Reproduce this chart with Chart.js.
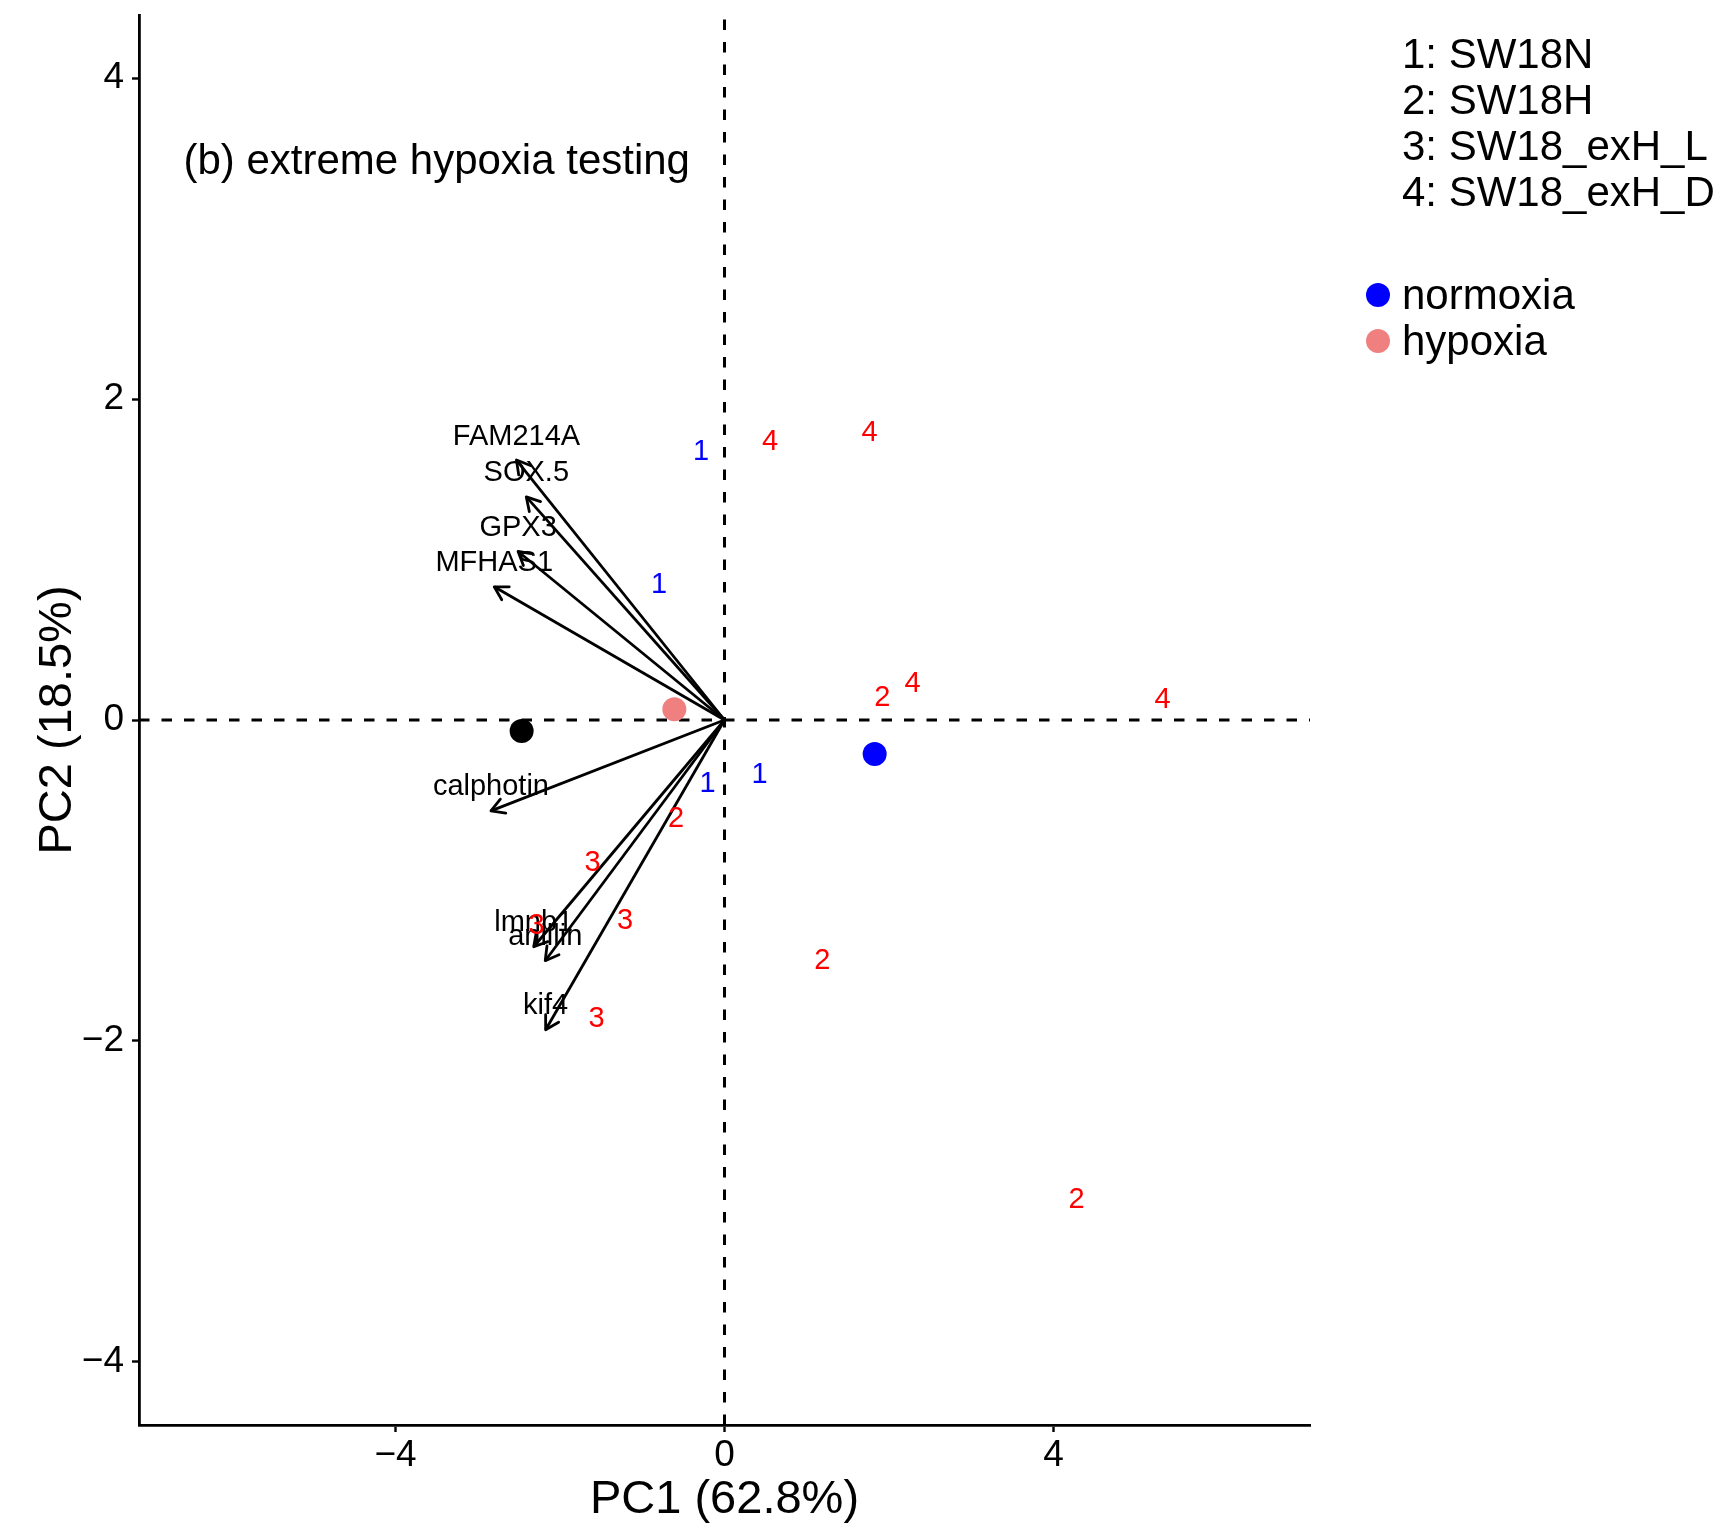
<!DOCTYPE html>
<html>
<head>
<meta charset="utf-8">
<script src="https://cdn.jsdelivr.net/npm/chart.js@4/dist/chart.umd.min.js"></script>
<style>
  html, body { margin: 0; padding: 0; background: #ffffff; }
  canvas { display: block; }
</style>
</head>
<body>
<canvas id="biplot" width="1729" height="1529"></canvas>
<script>
// ---- sample scores on PC1 / PC2 (label = group code) ----
const sampleGroup = ['1', '1', '1', '1', '2', '2', '2', '2', '3', '3', '3', '3', '4', '4', '4', '4'];
const samplePC1 = [-0.284, -0.796, -0.207, 0.425, 1.92, -0.59, 1.19, 4.28, -1.603, -1.21, -2.285, -1.555, 0.555, 1.765, 2.287, 5.327];
const samplePC2 = [1.673, 0.842, -0.40, -0.343, 0.135, -0.619, -1.50, -2.99, -0.89, -1.251, -1.284, -1.866, 1.735, 1.787, 0.224, 0.125];

// ---- group codes and cell lines ----
const groupCodes = ['1', '2', '3', '4'];
const groupNames = ['SW18N', 'SW18H', 'SW18_exH_L', 'SW18_exH_D'];

// ---- condition centres ----
const conditionNames = ['normoxia', 'hypoxia'];
const conditionPC1 = [1.826, -0.61];
const conditionPC2 = [-0.212, 0.067];

// ---- unlabelled centre point ----
const centrePC1 = [-2.467];
const centrePC2 = [-0.069];

// ---- variable loadings (arrow tips) ----
const varNames = ['FAM214A', 'SOX.5', 'GPX3', 'MFHAS1', 'calphotin', 'lmnb1', 'anillin', 'kif4'];
const varPC1 = [-2.53, -2.41, -2.51, -2.80, -2.84, -2.32, -2.18, -2.175];
const varPC2 = [1.62, 1.39, 1.05, 0.83, -0.566, -1.413, -1.50, -1.93];

// ---- axes ----
const xTicks = [-4, 0, 4];
const yTicks = [-4, -2, 0, 2, 4];
const xLimits = [-7.12, 7.12];
const yLimits = [-4.393, 4.393];
const xTitle = 'PC1 (62.8%)';
const yTitle = 'PC2 (18.5%)';
const panelNote = '(b) extreme hypoxia testing';
const panelNoteX = -3.5;
const panelNoteY = 3.475;

// ---- styling ----
const FONT = "'Liberation Sans', Arial, Helvetica, sans-serif";
const codeColour = { '1': '#0000FF', '2': '#FF0000', '3': '#FF0000', '4': '#FF0000' };
const conditionColour = { normoxia: '#0000FF', hypoxia: '#F08080' };

function minusLabel(v) {
  return v < 0 ? '\u2212' + Math.abs(v) : String(v);
}

const datasets = [];

// zero reference lines (dashed)
datasets.push({
  type: 'line', data: [{ x: xLimits[0], y: 0 }, { x: xLimits[1], y: 0 }],
  borderColor: '#000', borderWidth: 3, borderDash: [10.5, 12], borderCapStyle: 'butt',
  pointRadius: 0, fill: false, order: 30
});
datasets.push({
  type: 'line', data: [{ x: 0, y: yLimits[0] }, { x: 0, y: yLimits[1] }],
  borderColor: '#000', borderWidth: 3, borderDash: [10.5, 12], borderCapStyle: 'butt',
  pointRadius: 0, fill: false, order: 30
});

// loading arrows
const arrowIdx = [];
varNames.forEach((name, i) => {
  arrowIdx.push(datasets.length);
  datasets.push({
    type: 'line', data: [{ x: 0, y: 0 }, { x: varPC1[i], y: varPC2[i] }],
    borderColor: '#000', borderWidth: 2.8, pointRadius: 0, fill: false, order: 20
  });
});

// condition centres
conditionNames.forEach((name, i) => {
  datasets.push({
    type: 'scatter', data: [{ x: conditionPC1[i], y: conditionPC2[i] }],
    backgroundColor: conditionColour[name], borderWidth: 0, pointRadius: 12, order: 10
  });
});
datasets.push({
  type: 'scatter', data: centrePC1.map((v, i) => ({ x: v, y: centrePC2[i] })),
  backgroundColor: '#000', borderWidth: 0, pointRadius: 12, order: 10
});

// sample positions (drawn as their group code by the plugin)
const sampleIdx = [];
groupCodes.forEach(code => {
  const pts = [];
  sampleGroup.forEach((g, i) => { if (g === code) pts.push({ x: samplePC1[i], y: samplePC2[i] }); });
  sampleIdx.push(datasets.length);
  datasets.push({ type: 'scatter', data: pts, pointRadius: 0, borderWidth: 0, code: code, order: 1 });
});

const biplotText = {
  id: 'biplotText',
  afterDatasetsDraw(chart) {
    const ctx = chart.ctx;
    const xs = chart.scales.x, ys = chart.scales.y;
    ctx.save();

    // arrowheads + variable names
    const L = 15, A = Math.PI / 6;
    ctx.strokeStyle = '#000';
    ctx.lineWidth = 2.8;
    ctx.lineCap = 'round';
    ctx.lineJoin = 'round';
    ctx.fillStyle = '#000';
    ctx.font = '29px ' + FONT;
    ctx.textAlign = 'center';
    ctx.textBaseline = 'middle';
    arrowIdx.forEach(di => {
      const meta = chart.getDatasetMeta(di);
      const p0 = meta.data[0], p1 = meta.data[1];
      const ang = Math.atan2(p1.y - p0.y, p1.x - p0.x);
      ctx.beginPath();
      ctx.moveTo(p1.x - L * Math.cos(ang - A), p1.y - L * Math.sin(ang - A));
      ctx.lineTo(p1.x, p1.y);
      ctx.lineTo(p1.x - L * Math.cos(ang + A), p1.y - L * Math.sin(ang + A));
      ctx.stroke();
    });
    arrowIdx.forEach((di, k) => {
      const p1 = chart.getDatasetMeta(di).data[1];
      ctx.fillText(varNames[k], p1.x, p1.y - 23.5);
    });

    // sample group codes
    sampleIdx.forEach(di => {
      const ds = chart.data.datasets[di];
      ctx.fillStyle = codeColour[ds.code];
      chart.getDatasetMeta(di).data.forEach(el => ctx.fillText(ds.code, el.x, el.y));
    });

    // panel note
    ctx.fillStyle = '#000';
    ctx.font = '42px ' + FONT;
    ctx.fillText(panelNote, xs.getPixelForValue(panelNoteX), ys.getPixelForValue(panelNoteY));
    ctx.restore();
  },
  afterDraw(chart) {
    const ctx = chart.ctx;
    const area = chart.chartArea;
    ctx.save();
    ctx.fillStyle = '#000';

    // axis titles
    ctx.font = '47px ' + FONT;
    ctx.textAlign = 'center';
    ctx.textBaseline = 'alphabetic';
    ctx.fillText(xTitle, (area.left + area.right) / 2, 1513);
    ctx.save();
    ctx.translate(71, (area.top + area.bottom) / 2);
    ctx.rotate(-Math.PI / 2);
    ctx.fillText(yTitle, 0, 0);
    ctx.restore();

    // legend: group codes
    const lx = 1402;
    ctx.font = '42px ' + FONT;
    ctx.textAlign = 'left';
    groupCodes.forEach((code, i) => {
      ctx.fillText(code + ': ' + groupNames[i], lx, 68 + i * 46);
    });
    // legend: conditions
    conditionNames.forEach((name, i) => {
      const cy = 295 + i * 46;
      ctx.fillStyle = conditionColour[name];
      ctx.beginPath();
      ctx.arc(1378, cy, 12, 0, Math.PI * 2);
      ctx.fill();
      ctx.fillStyle = '#000';
      ctx.fillText(name, lx, cy + 14);
    });
    ctx.restore();
  }
};

new Chart(document.getElementById('biplot'), {
  type: 'scatter',
  data: { datasets: datasets },
  options: {
    responsive: false,
    devicePixelRatio: 1,
    animation: false,
    events: [],
    layout: { padding: { left: 0, right: 419, top: 15, bottom: 0 } },
    plugins: { legend: { display: false }, tooltip: { enabled: false } },
    scales: {
      x: {
        type: 'linear', position: 'bottom', min: xLimits[0], max: xLimits[1],
        afterBuildTicks: s => { s.ticks = xTicks.map(v => ({ value: v })); },
        afterFit: s => { s.height = 104; s.paddingLeft = 0; s.paddingRight = 0; },
        grid: { display: true, drawOnChartArea: false, drawTicks: true, tickLength: 7, tickWidth: 2.4, tickColor: '#000' },
        border: { display: true, color: '#000', width: 2.8 },
        ticks: { color: '#000', font: { family: FONT, size: 37 }, padding: 2, maxRotation: 0, callback: v => minusLabel(v) }
      },
      y: {
        type: 'linear', position: 'left', min: yLimits[0], max: yLimits[1],
        afterBuildTicks: s => { s.ticks = yTicks.map(v => ({ value: v })); },
        afterFit: s => { s.width = 139; s.paddingTop = 0; s.paddingBottom = 0; },
        grid: { display: true, drawOnChartArea: false, drawTicks: true, tickLength: 7, tickWidth: 2.4, tickColor: '#000' },
        border: { display: true, color: '#000', width: 2.8 },
        ticks: { color: '#000', font: { family: FONT, size: 37 }, padding: 8, callback: v => minusLabel(v) }
      }
    }
  },
  plugins: [biplotText]
});
</script>
</body>
</html>
